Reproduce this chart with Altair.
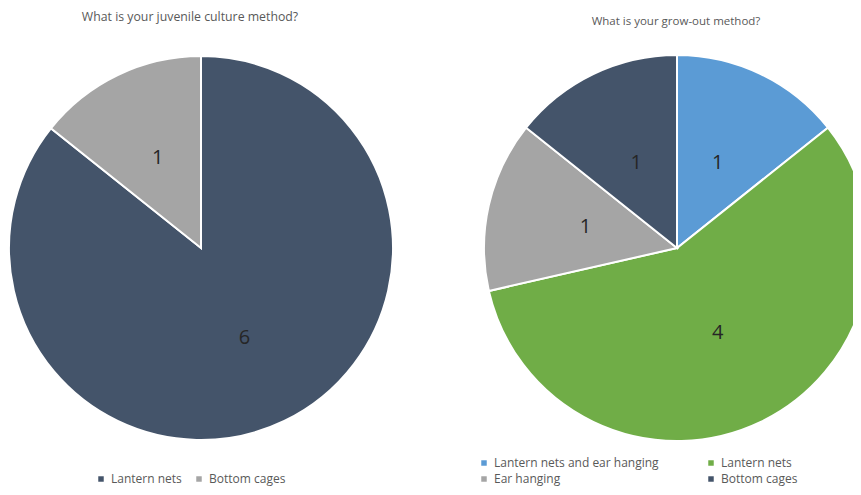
import altair as alt
import pandas as pd

# ---- data ----
left_title = "What is your juvenile culture method?"
left_categories = ["Lantern nets", "Bottom cages"]
left_counts = [6, 1]

right_title = "What is your grow-out method?"
right_categories = ["Lantern nets and ear hanging", "Lantern nets", "Ear hanging", "Bottom cages"]
right_counts = [1, 4, 1, 1]

# ---- styling ----
NAVY = "#44546A"
GRAY = "#A5A5A5"
BLUE = "#5B9BD5"
GREEN = "#70AD47"
left_colors = [NAVY, GRAY]
right_colors = [BLUE, GREEN, GRAY, NAVY]
FONT = "Open Sans"

left_df = pd.DataFrame({"category": left_categories, "count": left_counts,
                        "order": list(range(len(left_categories)))})
right_df = pd.DataFrame({"category": right_categories, "count": right_counts,
                         "order": list(range(len(right_categories)))})

W, H = 845, 479
LCX, LCY, LR = 193, 240, 192
RCX, RCY, RR = 669, 240, 193


def pie(df, cats, colors, cx, cy, r, lr, lx, ly, colpad, title, tsize, tx, ty):
    base = alt.Chart(df).encode(
        theta=alt.Theta("count:Q", stack=True),
        order=alt.Order("order:Q", sort="ascending"),
    )
    arcs = base.mark_arc(radius=r, stroke="white", strokeWidth=2).encode(
        x=alt.value(cx), y=alt.value(cy),
        color=alt.Color(
            "category:N",
            scale=alt.Scale(domain=cats, range=colors),
            sort=cats,
            legend=alt.Legend(
                title=None, orient="none", legendX=lx, legendY=ly,
                direction="horizontal", columns=2, columnPadding=colpad,
                rowPadding=4, symbolType="square", symbolSize=30,
                symbolStrokeWidth=0, labelFont=FONT, labelFontSize=12,
                labelColor="#595959", labelOffset=4, labelLimit=400,
            ),
        ),
    )
    labels = base.mark_text(radius=lr, font=FONT, fontSize=20, color="#262626").encode(
        x=alt.value(cx), y=alt.value(cy),
        text="count:Q",
    )
    ttl = alt.Chart(pd.DataFrame({"t": [title]})).mark_text(
        font=FONT, fontSize=tsize, color="#595959"
    ).encode(text="t:N", x=alt.value(tx), y=alt.value(ty))
    return alt.layer(arcs, labels, ttl).resolve_scale(theta="independent")


left = pie(left_df, left_categories, left_colors, LCX, LCY, LR, 100,
           87, 465, 11, left_title, 12.3, 182, 9)
right = pie(right_df, right_categories, right_colors, RCX, RCY, RR, 94,
            470, 449, 46, right_title, 11.5, 668, 14)

chart = alt.layer(left, right).resolve_scale(
    theta="independent", color="independent"
).resolve_legend(color="independent").properties(
    width=W, height=H, padding=0, autosize=alt.AutoSizeParams(type="none")
).configure_view(stroke=None)

chart.save("out.html", embed_options={"renderer": "svg", "actions": False})
